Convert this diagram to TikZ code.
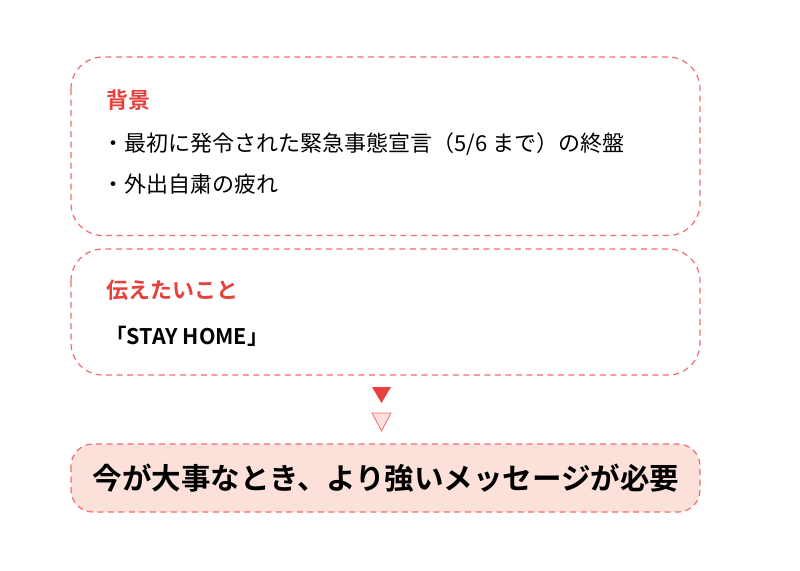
\documentclass[tikz,border=0pt]{standalone}
\usepackage{fontspec}
\setmainfont{Noto Sans CJK JP}[BoldFont={Noto Sans CJK JP Bold}]
\definecolor{hred}{HTML}{E8403C}
\definecolor{bord}{HTML}{F06E6E}
\definecolor{lpink}{HTML}{FCE0DA}
\begin{document}
\begin{tikzpicture}[x=1pt,y=-1pt,
  box/.style={draw=bord,line width=1.2pt,dash pattern=on 6pt off 4.5pt},
  head/.style={anchor=west,text=hred,font=\fontsize{22}{26}\selectfont\bfseries,inner sep=0pt},
  body/.style={anchor=west,text=black,font=\fontsize{22}{26}\selectfont,inner sep=0pt},
  bodyb/.style={anchor=west,text=black,font=\fontsize{21.5}{26}\selectfont\bfseries,inner sep=0pt},
  big/.style={anchor=center,text=black,font=\fontsize{29.5}{34}\selectfont\bfseries,inner sep=0pt}]
\useasboundingbox (0,0) rectangle (800,570);
\fill[white] (0,0) rectangle (800,570);
\draw[box,rounded corners=32pt] (71,57) rectangle (700,235.5);
\draw[box,rounded corners=32pt] (71,249) rectangle (700,375);
\draw[box,fill=lpink,rounded corners=22pt] (71,444) rectangle (700,512);
\node[head] (h1) at (106,100) {背景};
\node[body] (l1) at (102,144) {・最初に発令された緊急事態宣言（5/6 まで）の終盤};
\node[body] (l2) at (102,184) {・外出自粛の疲れ};
\node[head] (h2) at (106,290) {伝えたいこと};
\node[bodyb] (s1) at (105,336) {「STAY HOME」};
\fill[hred] (372,387) -- (391,387) -- (381.5,403) -- cycle;
\draw[bord,fill=lpink,line width=0.8pt] (372,413) -- (391,413) -- (381.5,431) -- cycle;
\node[big] (m) at (386,478) {今が大事なとき、より強いメッセージが必要};
\end{tikzpicture}
\end{document}
